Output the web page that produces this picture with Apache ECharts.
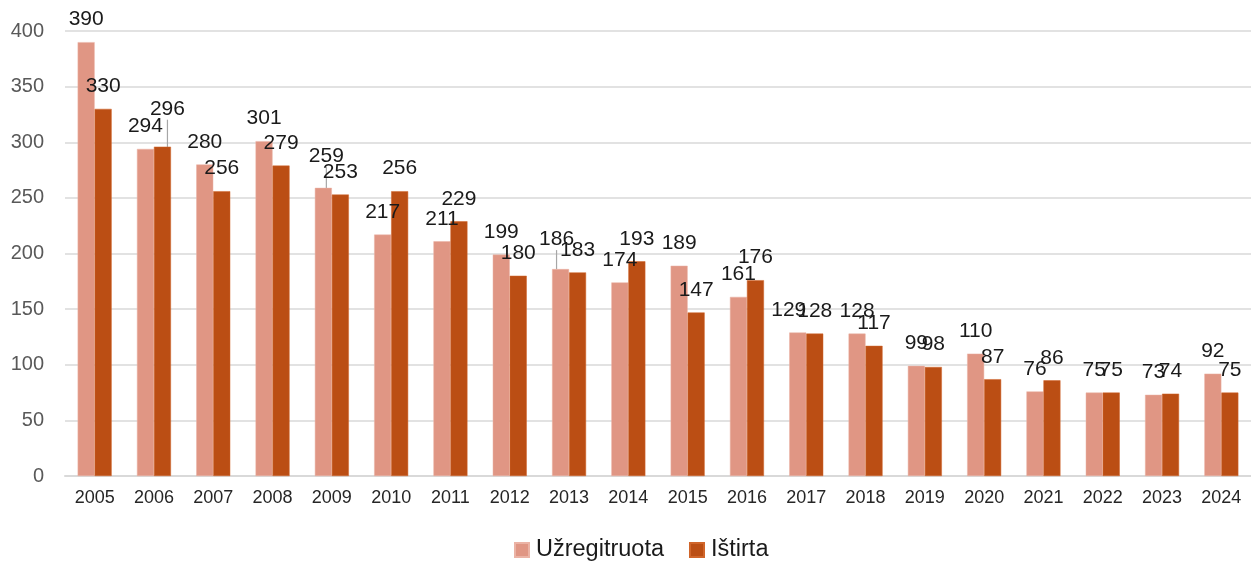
<!DOCTYPE html>
<html><head><meta charset="utf-8">
<script src="https://cdn.jsdelivr.net/npm/echarts@6/dist/echarts.min.js"></script>
<style>html,body{margin:0;padding:0;background:#fff}#c{width:1251px;height:567px}</style>
</head><body><div id="c"></div>
<script>
const years = ['2005','2006','2007','2008','2009','2010','2011','2012','2013','2014','2015','2016','2017','2018','2019','2020','2021','2022','2023','2024'];
const registered = [390,294,280,301,259,217,211,199,186,174,189,161,129,128,99,110,76,75,73,92];
const investigated = [330,296,256,279,253,256,229,180,183,193,147,176,128,117,98,87,86,75,74,75];
const seriesNames = ['Užregitruota','Ištirta'];
const yTicks = {min:0, max:400, interval:50};

// manually moved labels (as in the source) : seriesIndex -> dataIndex -> [dx, dy, line]
const moved = {
  0: {4:[3,-9,true], 8:[-4,-7,true], 12:[-9,0,false]},
  1: {1:[5,-15,true]}
};
function mkData(arr, si){
  return arr.map((v,i)=>{
    const m = moved[si][i];
    if (m && m[2]) return {value:v, labelLine:{show:true, lineStyle:{color:'#a6a6a6', width:1.2}}};
    return v;
  });
}
const chart = echarts.init(document.getElementById('c'), null, {renderer:'canvas'});
const font = '"Liberation Sans", Arial, sans-serif';
const lbl = {show:true, position:'top', distance:12, fontSize:21, color:'#1a1a1a', fontFamily:font};
chart.setOption({
  animation:false,
  textStyle:{fontFamily:font},
  grid:{left:65, right:0, top:31, bottom:91, containLabel:false},
  legend:{
    data:seriesNames, left:514, top:538, padding:0, itemWidth:14, itemHeight:14, itemGap:25,
    icon:'rect', textStyle:{fontSize:23.5, color:'#1a1a1a', fontFamily:font, padding:[0,0,0,2]}
  },
  xAxis:{
    type:'category', data:years,
    axisLine:{lineStyle:{color:'#d9d9d9', width:2}},
    axisTick:{show:false},
    axisLabel:{fontSize:18, color:'#262626', margin:13, fontFamily:font}
  },
  yAxis:{
    type:'value', min:yTicks.min, max:yTicks.max, interval:yTicks.interval,
    axisLine:{show:false}, axisTick:{show:false},
    splitLine:{lineStyle:{color:'#d9d9d9', width:1.5}},
    axisLabel:{fontSize:20, color:'#595959', margin:21, fontFamily:font}
  },
  series:[
    {name:seriesNames[0], type:'bar', data:mkData(registered,0), barWidth:17, barGap:'0%',
     itemStyle:{color:'#E09684', borderColor:'#EBB3A5', borderWidth:0.5},
     label:lbl, labelLine:{show:false},
     labelLayout:(p)=>{const m=moved[0][p.dataIndex]; return m?{dx:m[0],dy:m[1]}:{};}},
    {name:seriesNames[1], type:'bar', data:mkData(investigated,1), barWidth:17, barGap:'0%',
     itemStyle:{color:'#BB4E14', borderColor:'#D0652A', borderWidth:0.5},
     label:lbl, labelLine:{show:false},
     labelLayout:(p)=>{const m=moved[1][p.dataIndex]; return m?{dx:m[0],dy:m[1]}:{};}}
  ]
});
</script></body></html>
